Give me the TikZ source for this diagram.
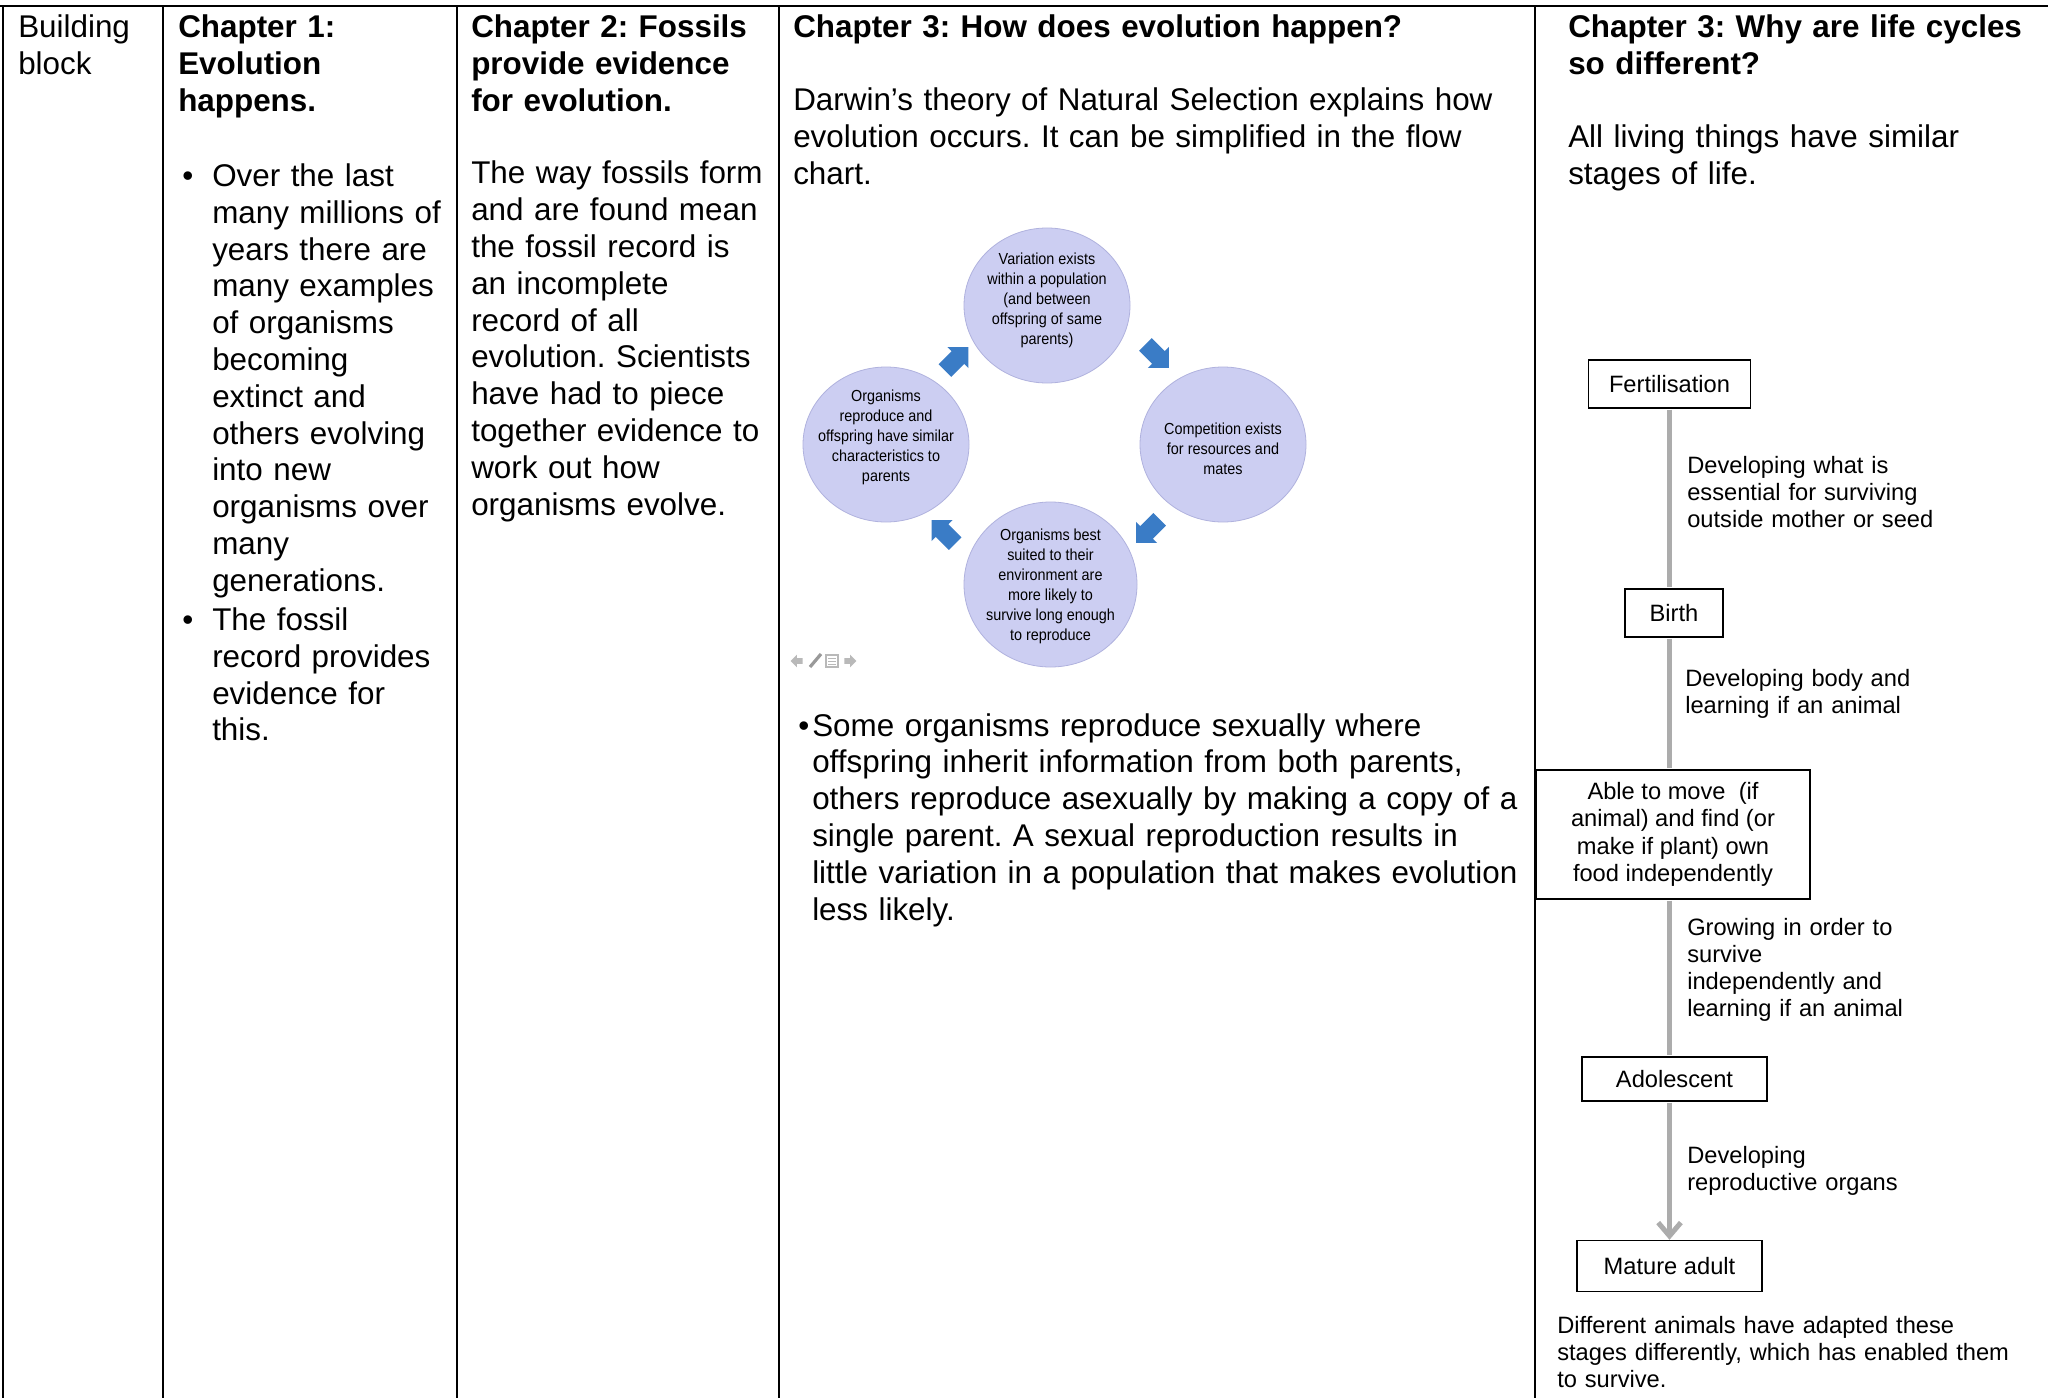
\documentclass[tikz,border=0pt]{standalone}
\usepackage{fontspec}
\setmainfont{Liberation Sans}
\newfontfamily\cycfont[FakeStretch=0.9]{Liberation Sans}
\frenchspacing
\usetikzlibrary{shapes.geometric,shapes.arrows,arrows.meta}
\definecolor{lav}{RGB}{204,206,242}
\definecolor{lavedge}{RGB}{176,178,222}
\definecolor{cycblue}{RGB}{58,124,198}
\definecolor{stemgray}{RGB}{172,172,172}
\definecolor{icongray}{RGB}{185,185,185}
\begin{document}
\begin{tikzpicture}[x=0.75pt,y=-0.75pt,
  tbl/.style={line width=1.5pt},
  body/.style={anchor=base west,inner sep=0pt,align=left,text width=#1,font=\fontsize{23.55}{27.6}\selectfont},
  head/.style={body=#1,font=\fontsize{23.55}{27.6}\selectfont\bfseries},
  small/.style={anchor=base west,inner sep=0pt,align=left,text width=260pt,font=\fontsize{17.75}{20.4}\selectfont},
  stage/.style={draw,line width=1.1pt,fill=white,inner sep=0pt,align=center,font=\fontsize{17.75}{20.6}\selectfont},
  cyc/.style={ellipse,fill=lav,draw=lavedge,line width=0.6pt,inner sep=0pt},
  ctext/.style={inner sep=0pt,align=center,font=\cycfont\fontsize{12}{15}\selectfont},
  barr/.style={single arrow,fill=cycblue,draw=none,inner xsep=0pt,inner ysep=6.5pt,single arrow head extend=4.5pt,minimum height=25pt},
  icon/.style={single arrow,fill=icongray,draw=none,inner xsep=0pt,inner ysep=2pt,single arrow head extend=2.5pt,minimum height=9pt},
  stem/.style={draw=stemgray,line width=3.75pt}
]
\useasboundingbox (0,0) rectangle (2048,1398);
\fill[white] (0,0) rectangle (2048,1398);

% table rules
\draw[tbl] (0,6) -- (2048,6);
\draw[tbl] (3,6) -- (3,1398);
\draw[tbl] (163,6) -- (163,1398);
\draw[tbl] (457,6) -- (457,1398);
\draw[tbl] (779,6) -- (779,1398);
\draw[tbl] (1535,6) -- (1535,1398);

% column 0
\node[body=130pt] (bb) at (18,38) {Building\\block};

% column 1
\node[head=180pt] (h1) at (178,37.5) {Chapter 1:\\Evolution\\happens.};
\node[body=20pt] (d1) at (182,186.5) {•};
\node[body=180pt] (p1) at (212,186.5) {Over the last\\many millions of\\years there are\\many examples\\of organisms\\becoming\\extinct and\\others evolving\\into new\\organisms over\\many\\generations.};
\node[body=20pt] (d2) at (182,630.5) {•};
\node[body=180pt] (p2) at (212,630.5) {The fossil\\record provides\\evidence for\\this.};

% column 2
\node[head=240pt] (h2) at (471,37.5) {Chapter 2: Fossils\\provide evidence\\for evolution.};
\node[body=240pt] (p3) at (471,184) {The way fossils form\\and are found mean\\the fossil record is\\an incomplete\\record of all\\evolution. Scientists\\have had to piece\\together evidence to\\work out how\\organisms evolve.};

% column 3
\node[head=560pt] (h3) at (793,37.5) {Chapter 3: How does evolution happen?};
\node[body=560pt] (p4) at (793,111) {Darwin’s theory of Natural Selection explains how\\evolution occurs. It can be simplified in the flow\\chart.};

\node[cyc,minimum width=124.5pt,minimum height=116.25pt] (c1) at (1047,305.5) {};
\node[cyc,minimum width=124.5pt,minimum height=116.25pt] (c2) at (1223,444.5) {};
\node[cyc,minimum width=129.75pt,minimum height=123.75pt] (c3) at (1050.5,584.5) {};
\node[cyc,minimum width=124.5pt,minimum height=116.25pt] (c4) at (886,444.5) {};
\node[ctext] (c1t) at (1047,300) {Variation exists\\within a population\\(and between\\offspring of same\\parents)};
\node[ctext] (c2t) at (1223,449) {Competition exists\\for resources and\\mates};
\node[ctext] (c3t) at (1050.5,586) {Organisms best\\suited to their\\environment are\\more likely to\\survive long enough\\to reproduce};
\node[ctext] (c4t) at (886,437) {Organisms\\reproduce and\\offspring have similar\\characteristics to\\parents};

\node[barr,rotate=45] (a1) at (953.5,362) {};
\node[barr,rotate=-45] (a2) at (1154,353) {};
\node[barr,rotate=-135] (a3) at (1151,528) {};
\node[barr,rotate=135] (a4) at (946.5,535) {};

% little toolbar icons
\node[icon,shape border rotate=180] (ic1) at (798,661) {};
\draw[line width=2.4pt,color=gray!80] (810,667) -- (821,654);
\node[draw=icongray,fill=white,line width=0.8pt,minimum width=9pt,minimum height=9pt,inner sep=0pt] (ic3) at (832,661) {};
\draw[icongray,line width=0.6pt] (828,658) -- (836,658) (828,661) -- (836,661) (828,664) -- (836,664);
\node[icon] (ic4) at (849,661) {};

\node[body=20pt] (d3) at (798,736) {•};
\node[body=560pt] (p5) at (812,736) {Some organisms reproduce sexually where\\offspring inherit information from both parents,\\others reproduce asexually by making a copy of a\\single parent. A sexual reproduction results in\\little variation in a population that makes evolution\\less likely.};

% column 4
\node[head=380pt] (h4) at (1568,37.5) {Chapter 3: Why are life cycles\\so different?};
\node[body=380pt] (p6) at (1568,147.8) {All living things have similar\\stages of life.};

\node[stage,minimum width=121.5pt,minimum height=36pt] (fert) at (1669.5,384) {Fertilisation};
\node[stage,minimum width=73.5pt,minimum height=36pt] (birth) at (1674,613) {Birth};
\node[stage,minimum width=205.5pt,minimum height=96.75pt] (able) at (1673,834.5) {Able to move\ \ (if\\animal) and find (or\\make if plant) own\\food independently};
\node[stage,minimum width=138.75pt,minimum height=33pt] (adol) at (1674.5,1079) {Adolescent};
\node[stage,minimum width=138.75pt,minimum height=38.25pt] (mature) at (1669.5,1266) {Mature adult};

\draw[stem,shorten <=0.6pt,shorten >=0.6pt] (fert.south) -- (fert.south |- birth.north);
\draw[stem,shorten <=0.6pt,shorten >=0.6pt] (fert.south |- birth.south) -- (fert.south |- able.north);
\draw[stem,shorten <=0.6pt,shorten >=0.6pt] (fert.south |- able.south) -- (fert.south |- adol.north);
\draw[stem,shorten <=0.6pt,-{Straight Barb[length=10pt,width=17pt]}] (fert.south |- adol.south) -- (fert.south |- mature.north);

\node[small] (t1) at (1687,473) {Developing what is\\essential for surviving\\outside mother or seed};
\node[small] (t2) at (1685,686) {Developing body and\\learning if an animal};
\node[small] (t3) at (1687,935) {Growing in order to\\survive\\independently and\\learning if an animal};
\node[small] (t4) at (1687,1163) {Developing\\reproductive organs};
\node[small,text width=380pt] (t5) at (1557,1333) {Different animals have adapted these\\stages differently, which has enabled them\\to survive.};
\end{tikzpicture}
\end{document}
